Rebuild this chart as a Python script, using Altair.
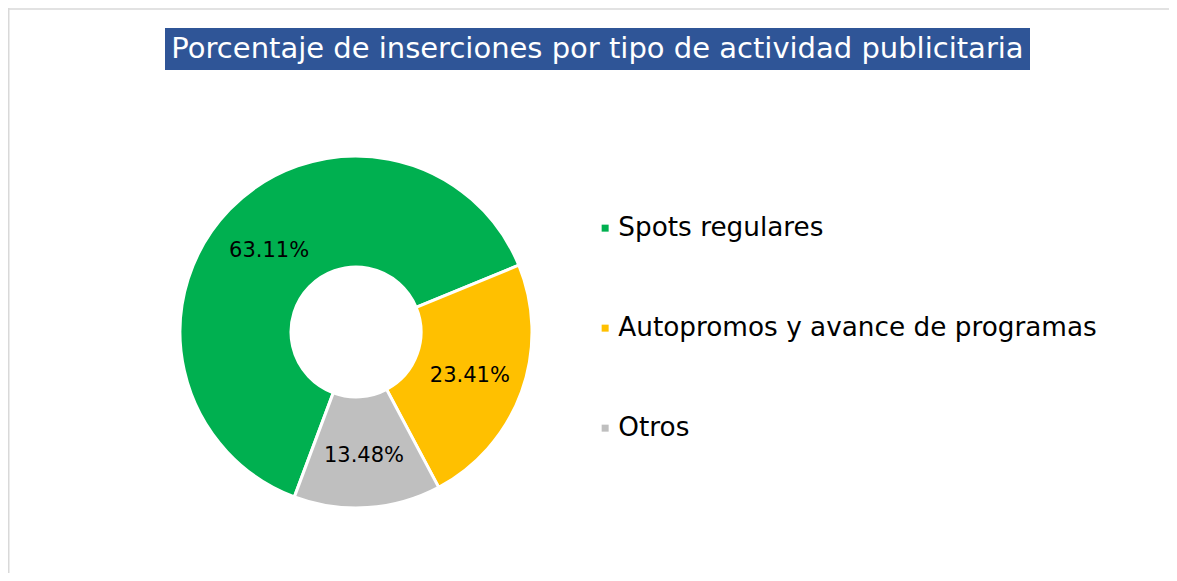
import altair as alt
import pandas as pd
import math

categories = ["Spots regulares", "Autopromos y avance de programas", "Otros"]
values = [63.11, 23.41, 13.48]
labels = ["63.11%", "23.41%", "13.48%"]
colors = ["#00B050", "#FFC000", "#BFBFBF"]
title_text = "Porcentaje de inserciones por tipo de actividad publicitaria"

df = pd.DataFrame({
    "cat": categories,
    "val": values,
    "lab": labels,
    "ord": list(range(len(categories))),
})

FONT = "DejaVu Sans"
start = math.radians(200.5)
theta_scale = alt.Scale(range=[start, start + 2 * math.pi])
cx, cy = 348, 324

base = alt.Chart(df)

arcs = base.mark_arc(radius=176, radius2=65, stroke="white", strokeWidth=3).encode(
    theta=alt.Theta("val:Q", stack=True, scale=theta_scale),
    order=alt.Order("ord:Q"),
    color=alt.Color(
        "cat:N",
        scale=alt.Scale(domain=categories, range=colors),
        sort=categories,
        legend=alt.Legend(
            title=None,
            orient="none",
            legendX=584,
            legendY=207,
            symbolType="square",
            symbolSize=49,
            symbolStrokeWidth=0,
            labelFontSize=26.3,
            labelFont=FONT,
            labelColor="black",
            labelOffset=0,
            rowPadding=73,
            padding=0,
            labelLimit=800,
        ),
    ),
    x=alt.value(cx),
    y=alt.value(cy),
)

texts = base.mark_text(radius=121, dy=3, fontSize=21, font=FONT, color="black").encode(
    theta=alt.Theta("val:Q", stack=True, scale=theta_scale),
    order=alt.Order("ord:Q"),
    text="lab:N",
    x=alt.value(cx),
    y=alt.value(cy),
)

title_df = pd.DataFrame({"t": [title_text]})
title_box = alt.Chart(title_df).mark_rect(color="#2F5597").encode(
    x=alt.value(157), x2=alt.value(1022), y=alt.value(20), y2=alt.value(62)
)
title_txt = alt.Chart(title_df).mark_text(
    fontSize=29, font=FONT, color="white", align="center", baseline="middle"
).encode(text="t:N", x=alt.value(589.5), y=alt.value(41))

border_top = alt.Chart(title_df).mark_rule(color="#D9D9D9", strokeWidth=1.5).encode(
    x=alt.value(0), x2=alt.value(1161), y=alt.value(1)
)
border_left = alt.Chart(title_df).mark_rule(color="#D9D9D9", strokeWidth=1.5).encode(
    x=alt.value(0.75), y=alt.value(0), y2=alt.value(565)
)

chart = alt.layer(border_top, border_left, title_box, title_txt, arcs, texts).properties(
    width=1161, height=565, padding=0, autosize="none"
).configure_view(stroke=None)

chart.save("out.html", embed_options={"renderer": "svg", "actions": False})
